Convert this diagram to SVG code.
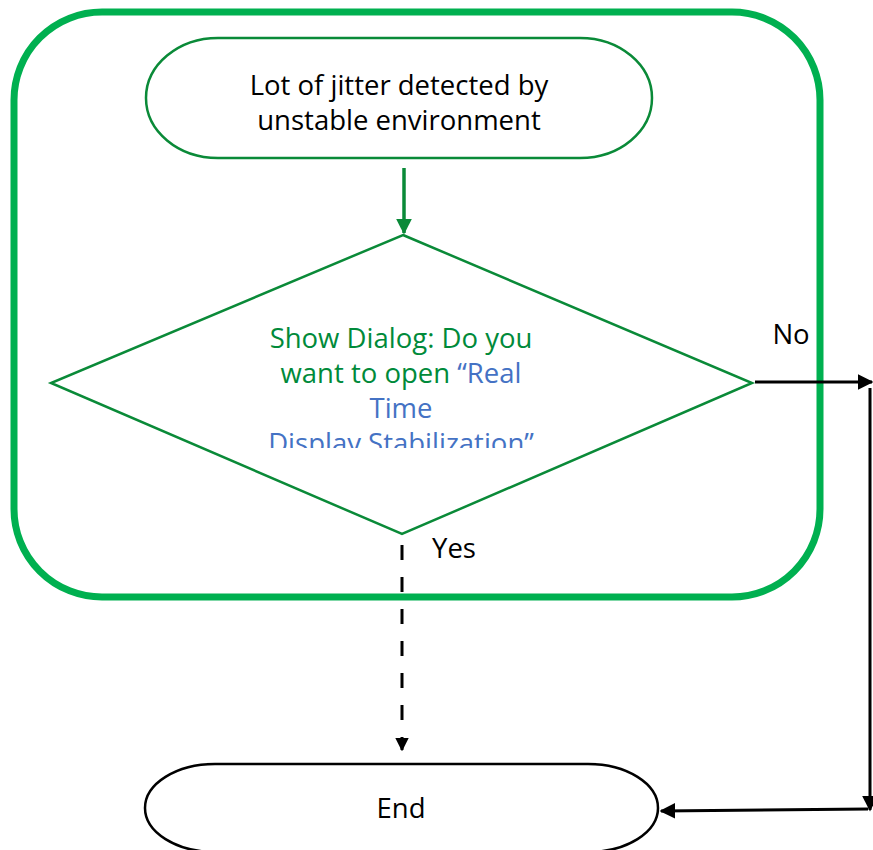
<svg xmlns="http://www.w3.org/2000/svg" width="873" height="850" viewBox="0 0 873 850">
<defs>
<style>
.t{font-family:"Open Sans","Noto Sans",sans-serif;font-size:27.5px;text-anchor:middle}
.g{fill:#008A3A}
.b{fill:#4472C4}
.k{fill:#000}
.gs{fill:#fff;stroke:#0A8A38;stroke-width:2.5}
.bk{fill:none;stroke:#000;stroke-width:3}
</style>
<marker id="ag" viewBox="0 0 10 10" refX="9" refY="5" markerWidth="4.6" markerHeight="4.6" orient="auto" markerUnits="strokeWidth"><path d="M0,0L10,5L0,10Z" fill="#0A8A38"/></marker>
<marker id="ak" viewBox="0 0 10 10" refX="9" refY="5" markerWidth="5.3" markerHeight="5.3" orient="auto" markerUnits="strokeWidth"><path d="M0,0L10,5L0,10Z" fill="#000"/></marker>
<marker id="akd" viewBox="0 0 10 10" refX="9" refY="5" markerWidth="4.5" markerHeight="4.5" orient="auto" markerUnits="strokeWidth"><path d="M0,0L10,5L0,10Z" fill="#000"/></marker>
<clipPath id="dc"><rect x="0" y="300" width="873" height="148"/></clipPath>
</defs>
<rect x="0" y="0" width="873" height="850" fill="#fff"/>
<g id="container">
<rect x="14" y="12" width="806" height="585" rx="88" ry="88" fill="none" stroke="#00B050" stroke-width="7"/>
</g>
<g id="start">
<rect class="gs" x="146" y="38" width="506" height="120" rx="72" ry="60"/>
<text class="t k" x="399" y="95">Lot of jitter detected by</text>
<text class="t k" x="399" y="130">unstable environment</text>
</g>
<g id="decision">
<polygon class="gs" points="403,235 752,383 402,534 51,383"/>
<g clip-path="url(#dc)">
<text class="t g" x="401" y="348">Show Dialog: Do you</text>
<text class="t g" x="401" y="383">want to open <tspan class="b">“Real</tspan></text>
<text class="t b" x="401" y="418">Time</text>
<text class="t b" x="401" y="453">Display Stabilization”</text>
</g>
</g>
<g id="end">
<rect x="145" y="764" width="513" height="88" rx="70" ry="44" fill="#fff" stroke="#000" stroke-width="2.5"/>
<text class="t k" x="401" y="818">End</text>
</g>
<g id="connectors">
<line x1="404" y1="168" x2="404" y2="233" stroke="#0A8A38" stroke-width="3.5" marker-end="url(#ag)"/>
<line x1="755" y1="382" x2="872" y2="382" class="bk" marker-end="url(#ak)"/>
<line x1="870" y1="388" x2="870" y2="810" class="bk" marker-end="url(#ak)"/>
<line x1="868" y1="809" x2="661" y2="811" class="bk" marker-end="url(#ak)"/>
<line x1="402" y1="545" x2="402" y2="750" class="bk" stroke-width="3.5" stroke-dasharray="15 17" marker-end="url(#akd)"/>
<text class="t k" x="791" y="344">No</text>
<text class="t k" x="454" y="558">Yes</text>
</g>
</svg>
